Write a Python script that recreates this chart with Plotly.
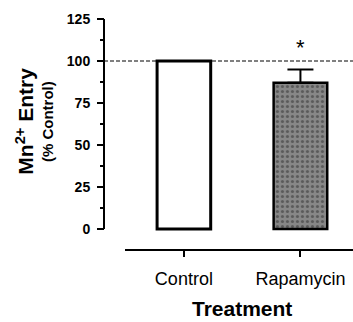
import plotly.graph_objects as go

categories = ["Control", "Rapamycin"]
values = [100, 87]
errors = [0, 8]
y_ticks = [0, 25, 50, 75, 100, 125]
reference_level = 100
significance_mark = "*"

FONT = "Arial, Liberation Sans, sans-serif"

fig = go.Figure()
fig.add_trace(go.Bar(
    x=[categories[0]], y=[values[0]], width=0.46,
    marker=dict(color="white", line=dict(color="black", width=3)),
    showlegend=False,
))
fig.add_trace(go.Bar(
    x=[categories[1]], y=[values[1]], width=0.46,
    marker=dict(color="#878787", line=dict(color="black", width=2.5),
                pattern=dict(shape=".", fillmode="overlay", bgcolor="#878787",
                             fgcolor="#2e2e2e", size=5, solidity=0.3)),
    error_y=dict(type="data", array=[errors[1]], arrayminus=[0], symmetric=False,
                 color="black", thickness=2, width=13),
    showlegend=False,
))

# dashed reference line
fig.add_shape(type="line", xref="paper", x0=0, x1=1, yref="y",
              y0=reference_level, y1=reference_level,
              line=dict(color="black", width=1, dash="4px,2px"), layer="below")
# y axis line only from 0 to top
fig.add_shape(type="line", xref="paper", x0=0, x1=0, yref="y",
              y0=y_ticks[0], y1=y_ticks[-1],
              line=dict(color="black", width=2))

fig.add_annotation(text=significance_mark, x=categories[1], y=values[1] + errors[1] + 13,
                   xref="x", yref="y", showarrow=False,
                   font=dict(family=FONT, size=22, color="black"), yanchor="middle")

fig.add_annotation(text="<b>Treatment</b>", xref="paper", yref="paper",
                   x=0.554, y=-0.255, showarrow=False, xanchor="center", yanchor="middle",
                   font=dict(family=FONT, size=21, color="black"))
fig.add_annotation(text="<b>Mn<sup>2+</sup> Entry</b>", xref="paper", yref="paper",
                   x=-0.321, y=0.556, showarrow=False, textangle=-90,
                   xanchor="center", yanchor="middle",
                   font=dict(family=FONT, size=21, color="black"))
fig.add_annotation(text="<b>(% Control)</b>", xref="paper", yref="paper",
                   x=-0.229, y=0.558, showarrow=False, textangle=-90,
                   xanchor="center", yanchor="middle",
                   font=dict(family=FONT, size=15, color="black"))

fig.update_layout(
    width=353, height=322,
    margin=dict(l=104, r=0, t=19, b=72),
    paper_bgcolor="white", plot_bgcolor="white",
    barmode="overlay",
    font=dict(family=FONT, color="black"),
    xaxis=dict(
        domain=[0.084, 1], anchor="free", position=0,
        type="category", categoryorder="array", categoryarray=categories,
        range=[-0.506, 1.451],
        showline=True, linecolor="black", linewidth=2,
        ticks="outside", ticklen=6, tickwidth=1.5, tickcolor="black",
        tickfont=dict(family=FONT, size=18, color="black"),
        ticklabelstandoff=6,
        showgrid=False, zeroline=False,
    ),
    yaxis=dict(
        domain=[0.0764, 1], anchor="free", position=0,
        range=[-2, 125],
        tickvals=y_ticks, ticktext=[str(t) for t in y_ticks],
        showline=False,
        ticks="outside", ticklen=7, tickwidth=1.5, tickcolor="black",
        tickfont=dict(family=FONT, size=14, color="black", weight="bold"),
        ticklabelstandoff=4,
        minor=dict(ticks="outside", ticklen=4, tickwidth=1.5, tickcolor="black",
                   dtick=12.5, tick0=0, showgrid=False),
        showgrid=False, zeroline=False,
    ),
)

fig.write_html("out.html", config={"displayModeBar": False},
               post_script="document.body.style.margin='0';document.body.style.padding='0';document.body.style.overflow='hidden';")
